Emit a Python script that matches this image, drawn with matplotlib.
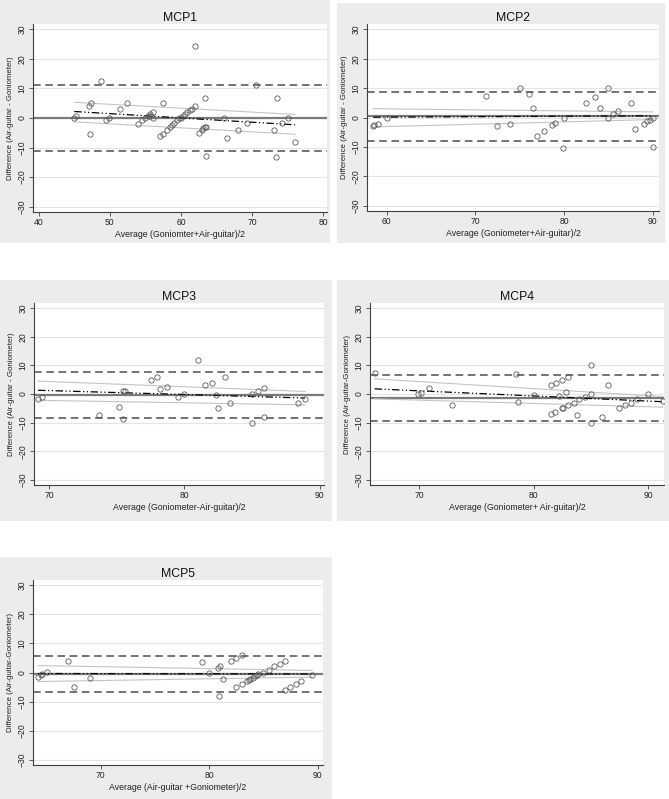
import numpy as np
import matplotlib
matplotlib.use('Agg')
import matplotlib.pyplot as plt
from matplotlib.patches import Rectangle

plt.rcParams['font.family'] = ['Liberation Sans', 'DejaVu Sans']

# ---- data ----
titles = ['MCP1', 'MCP2', 'MCP3', 'MCP4', 'MCP5']
ylabels = ['Difference (Air-guitar - Goniometer)',
           'Difference (Air-guitar - Goniometer)',
           'Difference (Air-guitar - Goniometer)',
           'Difference (Air-guitar-Goniometer)',
           'Difference (Air-guitar-Goniometer)']
xlabels = ['Average (Goniomter+Air-guitar)/2',
           'Average (Goniometer+Air-guitar)/2',
           'Average (Goniometer-Air-guitar)/2',
           'Average (Goniometer+ Air-guitar)/2',
           'Average (Air-guitar +Goniometer)/2']
xticks = [[40, 50, 60, 70, 80], [60, 70, 80, 90], [70, 80, 90], [70, 80, 90], [70, 80, 90]]
xlims = [(39.2, 80.5), (57.8, 90.7), (68.9, 90.3), (65.7, 91.4), (63.75, 90.5)]
yticks = [-30, -20, -10, 0, 10, 20, 30]

mcp1_avg = [45.0, 45.3, 47.0, 47.4, 47.2, 48.7, 49.5, 49.9, 51.4, 52.4, 54.0, 54.5, 54.9,
            55.3, 55.6, 55.7, 56.0, 56.0, 57.5, 57.0, 57.4, 58.0, 58.4, 58.7, 59.05, 59.4,
            59.7, 60.0, 60.3, 60.6, 60.9, 61.2, 61.5, 61.9, 62.0, 62.5, 62.9, 63.1, 63.3,
            63.5, 63.3, 63.5, 66.0, 66.5, 68.0, 69.2, 70.5, 73.0, 73.3, 73.5, 74.2, 75.0, 76.0]
mcp1_diff = [0.1, 0.7, 4.0, 5.0, -5.3, 12.6, -0.8, 0.0, 3.0, 5.1, -2.0, -0.8, -0.1,
             0.7, 1.3, 0.8, 2.1, 0.0, 5.0, -6.0, -5.3, -3.9, -3.1, -2.4, -1.6, -0.8,
             -0.1, 0.1, 0.7, 1.4, 2.1, 2.6, 3.2, 4.0, 24.2, -5.1, -4.0, -3.3, -3.0,
             -3.0, 6.7, -13.0, 0.0, -6.9, -3.9, -1.6, 11.2, -4.0, -13.3, 6.9, -1.7, 0.0, -8.0]

mcp2_avg = [58.5, 58.6, 59.0, 60.0, 71.2, 72.5, 73.9, 75.0, 76.0, 76.5, 76.9, 77.7, 78.7,
            79.0, 79.9, 80.0, 82.5, 83.5, 84.1, 85.0, 85.0, 85.5, 86.1, 87.5, 88.0, 89.0,
            89.4, 89.7, 90.0, 90.0]
mcp2_diff = [-3.0, -2.6, -2.1, 0.0, 7.4, -3.0, -2.3, 10.0, 8.1, 3.1, -6.3, -4.6, -2.7,
             -1.9, -10.3, 0.0, 5.0, 7.0, 3.3, 10.0, 0.0, 1.1, 2.2, 5.0, -4.0, -2.1,
             -1.3, -0.8, 0.0, -10.0]

mcp3_avg = [69.2, 69.5, 73.7, 75.2, 75.5, 75.5, 75.6, 77.5, 78.0, 78.2, 78.7, 79.5, 80.0,
            81.0, 81.5, 82.0, 82.3, 82.5, 83.0, 83.4, 85.0, 85.0, 85.4, 85.9, 85.9, 88.4, 88.9]
mcp3_diff = [-1.6, -0.9, -7.4, -4.5, -8.9, 1.0, 1.2, 5.0, 6.0, 1.7, 2.6, -0.9, 0.0,
             12.0, 3.0, 4.0, -0.5, -4.9, 6.0, -3.0, 0.0, -10.0, 1.0, 2.0, -8.0, -3.0, -1.9]

mcp4_avg = [66.1, 69.9, 70.2, 70.9, 72.9, 78.5, 78.6, 80.0, 81.5, 81.5, 81.9, 82.0, 82.2,
            82.5, 82.5, 82.6, 82.8, 83.0, 83.0, 83.5, 83.8, 84.0, 84.5, 85.0, 85.0, 85.0,
            86.0, 86.5, 87.5, 88.0, 88.5, 89.0, 90.0, 91.3]
mcp4_diff = [7.4, 0.0, 0.5, 2.0, -4.0, 7.0, -2.7, -0.2, 3.0, -7.0, -6.2, 4.0, -0.7,
             5.0, -4.9, -4.9, 0.6, 6.0, -4.0, -3.0, -7.4, -1.9, -0.9, 10.0, 0.0, -10.0,
             -7.9, 3.0, -4.9, -4.0, -3.0, -1.9, 0.0, -2.4]

mcp5_avg = [64.2, 64.5, 64.6, 65.0, 67.0, 67.5, 69.0, 79.3, 80.0, 80.8, 81.0, 80.9, 81.3,
            82.0, 82.5, 82.5, 83.0, 83.0, 83.5, 83.7, 83.8, 84.0, 84.2, 84.4, 84.5, 85.0,
            85.5, 86.0, 86.5, 87.0, 87.0, 87.5, 88.0, 88.5, 89.5]
mcp5_diff = [-1.4, -0.8, -0.6, 0.1, 4.1, -4.9, -2.0, 3.7, 0.0, 1.7, 2.2, -8.1, -2.4,
             4.1, 5.0, -4.9, 6.1, -3.9, -3.0, -2.5, -2.2, -1.8, -1.3, -0.9, -0.5, 0.0,
             1.0, 2.1, 3.0, 4.0, -6.0, -4.9, -3.9, -3.0, -1.0]

avgs = [mcp1_avg, mcp2_avg, mcp3_avg, mcp4_avg, mcp5_avg]
diffs = [mcp1_diff, mcp2_diff, mcp3_diff, mcp4_diff, mcp5_diff]

# mean difference and limits of agreement
mean_diff = [0.1, 0.45, -0.45, -1.5, -0.55]
loa_upper = [11.3, 8.8, 7.6, 6.5, 5.6]
loa_lower = [-11.05, -7.9, -8.3, -9.5, -6.7]

# regression line and its band, values at the two ends of the data range
reg_start = [2.2, 0.1, 1.3, 1.8, -0.35]
reg_end = [-2.3, 0.6, -1.4, -2.7, -0.5]
band_hi_start = [5.3, 3.0, 4.5, 5.3, 2.4]
band_hi_end = [1.2, 1.9, 0.9, -0.9, 0.7]
band_lo_start = [-1.3, -3.2, -2.2, -1.7, -3.1]
band_lo_end = [-5.5, -0.7, -3.8, -4.6, -1.6]

# ---- layout (pixels, top-left origin) ----
W, H = 669, 799
panel_px = [(0, 0, 330, 243), (337, 3, 665, 243), (0, 280, 332, 521),
            (337, 280, 669, 521), (0, 557, 332, 799)]
axes_px = [(33, 24, 327, 212), (367, 24, 659, 211), (34, 303, 324, 485),
           (370, 303, 664, 485), (33, 580, 323, 765)]

fig = plt.figure(figsize=(W / 100, H / 100), dpi=100)
fig.patch.set_facecolor('white')

for i in range(5):
    gl, gt, gr, gb = panel_px[i]
    fig.patches.append(Rectangle((gl / W, 1 - gb / H), (gr - gl) / W, (gb - gt) / H,
                                 transform=fig.transFigure, facecolor='#ececec',
                                 edgecolor='none', zorder=-5))
    l, t, r, b = axes_px[i]
    ax = fig.add_axes([l / W, 1 - b / H, (r - l) / W, (b - t) / H])
    ax.set_facecolor('white')

    x = np.array(avgs[i])
    y = np.array(diffs[i])
    ends = [x.min(), x.max()]

    ax.axhline(mean_diff[i], color='#7a7a7a', lw=1.6, zorder=2)
    ax.axhline(loa_upper[i], color='#4d4d4d', lw=1.1, ls=(0, (5, 3)), zorder=2)
    ax.axhline(loa_lower[i], color='#4d4d4d', lw=1.1, ls=(0, (5, 3)), zorder=2)
    ax.plot(ends, [band_hi_start[i], band_hi_end[i]], color='#c4c4c4', lw=0.8, zorder=2)
    ax.plot(ends, [band_lo_start[i], band_lo_end[i]], color='#c4c4c4', lw=0.8, zorder=2)
    ax.plot(ends, [reg_start[i], reg_end[i]], color='black', lw=0.9,
            dashes=[6, 2, 1, 2, 1, 2], zorder=3)
    ax.plot(x, y, 'o', mfc='none', mec='#5a5a5a', ms=3.8, mew=0.6, zorder=4)

    ax.set_xlim(*xlims[i])
    ax.set_ylim(-31.8, 31.8)
    ax.set_xticks(xticks[i])
    ax.set_yticks(yticks)
    ax.yaxis.grid(True, color='#e4e4e4', lw=0.8)
    ax.set_axisbelow(True)
    for s in ['top', 'right']:
        ax.spines[s].set_visible(False)
    for s in ['left', 'bottom']:
        ax.spines[s].set_color('#404040')
        ax.spines[s].set_linewidth(0.8)
    ax.tick_params(length=3, width=0.6, color='#404040', labelsize=6.2, pad=1.5,
                   labelcolor='#222222')
    for lab in ax.get_yticklabels():
        lab.set_rotation(90)
        lab.set_va('center')

    ax.set_title(titles[i], fontsize=8.8, pad=2.5, color='#111111')
    ax.set_xlabel(xlabels[i], fontsize=6.3, color='#222222')
    ax.set_ylabel(ylabels[i], fontsize=5.7, color='#222222')
    ax.yaxis.set_label_coords(-19 / (r - l), 0.5)
    ax.xaxis.set_label_coords(0.5, -18 / (b - t))

fig.savefig('out.png', dpi=100)
